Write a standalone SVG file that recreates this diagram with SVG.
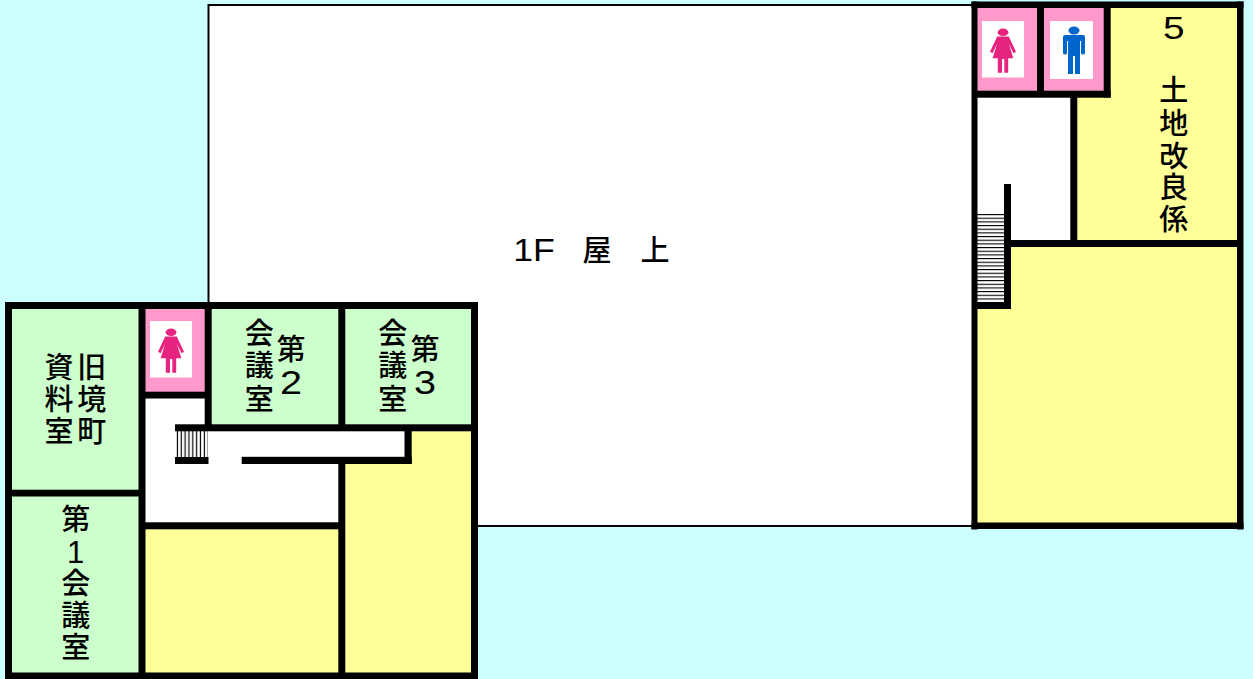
<svg xmlns="http://www.w3.org/2000/svg" width="1253" height="679" viewBox="0 0 1253 679">
<style>
.w{fill:#000}
.g{fill:#ccffcc}
.y{fill:#ffff99}
.p{fill:#ff99cc}
.f{fill:#fff}
text{font-family:"Noto Sans CJK JP","Noto Sans",sans-serif;font-size:29px;font-weight:500;text-anchor:middle;fill:#000}
.l{font-family:"Liberation Sans",sans-serif;font-size:31px;font-weight:400}
.d{font-size:33px}
</style>
<defs>
<g id="woman"><rect class="f" x="0" y="0" width="42" height="56.500"/><ellipse cx="21" cy="11.300" rx="5.400" ry="3.700" fill="#e6247f"/><path fill="#e6247f" d="M15.200 15.500H26.800L34 30.700L31.500 32.200L27 23L31.300 37.300H26.200V51.700H22.300V38H20V51.700H15.800V37.300H10.700L15 23L10.500 32.200L8 30.700Z"/></g>
<g id="man"><rect class="f" x="0" y="0" width="43" height="58"/><ellipse cx="24" cy="9.500" rx="5.500" ry="4" fill="#0066cc"/><path fill="#0066cc" d="M15 14H33Q35 14 35 16V32Q35 33.500 33 33.500Q31 33.500 31 32V20H30V53H25V35H23V53H18V20H17V32Q17 33.500 15 33.500Q13 33.500 13 32V16Q13 14 15 14Z"/></g>
<pattern id="hs" width="4" height="3.670" patternUnits="userSpaceOnUse" x="0" y="214"><rect width="4" height="3.670" fill="#fff"/><rect width="4" height="1.100" fill="#000"/></pattern>
<pattern id="vs" width="3.850" height="4" patternUnits="userSpaceOnUse" x="176" y="0"><rect width="3.850" height="4" fill="#fff"/><rect x="0.800" width="1.200" height="4" fill="#000"/></pattern>
</defs>
<rect width="1253" height="679" fill="#ccffff"/>
<g id="roof"><rect x="208.500" y="5" width="765" height="521" fill="#fff" stroke="#000" stroke-width="2"/><text class="l" transform="translate(534 261) scale(1.150 1)">1F</text><text x="597" y="261">屋</text><text x="655" y="261">上</text></g>
<g id="right-wing">
<rect class="y" x="975" y="5" width="265" height="521"/>
<rect class="f" x="975" y="94" width="98" height="150"/>
<rect class="p" x="975" y="5" width="65" height="90"/>
<rect class="p" x="1041" y="5" width="66" height="90"/>
<use href="#woman" x="982" y="21"/>
<use href="#man" x="1050" y="21"/>
<rect x="977" y="214" width="27" height="88" fill="url(#hs)"/>
<g class="w">
<rect x="971.500" y="1.500" width="6" height="528"/><rect x="971.500" y="1.500" width="272" height="6.500"/><rect x="1237" y="1.500" width="6.500" height="528"/><rect x="971.500" y="522.500" width="272" height="6.500"/>
<rect x="1037" y="5" width="7" height="92"/><rect x="1103.700" y="5" width="7" height="92.500"/><rect x="975" y="90.700" width="135.700" height="7"/>
<rect x="1070.300" y="97" width="7" height="150"/><rect x="1004" y="240" width="239" height="7"/>
<rect x="1004" y="184" width="7" height="125"/><rect x="975" y="302" width="36" height="7"/>
</g>
<text class="l" transform="translate(1173.700 39) scale(1.250 1)">5</text>
<text x="1173.700 1173.700 1173.700 1173.700 1173.700" y="101 134 167 198 230">土地改良係</text>
</g>
<g id="left-wing">
<rect class="g" x="10" y="305" width="130" height="371"/>
<rect class="p" x="144" y="305" width="62" height="90"/>
<rect class="f" x="144" y="395" width="196" height="130"/>
<rect class="f" x="205" y="428" width="205" height="32"/>
<rect class="g" x="210" y="305" width="130" height="122"/>
<rect class="g" x="343" y="305" width="130" height="122"/>
<rect class="y" x="144" y="527" width="197" height="149"/>
<rect class="y" x="343" y="462" width="130" height="214"/>
<rect class="y" x="410" y="428" width="63" height="36"/>
<use href="#woman" x="150" y="321"/>
<rect x="176" y="431" width="32" height="26" fill="url(#vs)"/>
<g class="w">
<rect x="5" y="302" width="473" height="7"/><rect x="5" y="302" width="7" height="377"/><rect x="471" y="302" width="7" height="377"/><rect x="5" y="672.500" width="473" height="6.500"/>
<rect x="138.500" y="302" width="7" height="377"/><rect x="12" y="489.700" width="127" height="6.800"/>
<rect x="204.700" y="302" width="7" height="129"/><rect x="145" y="391.700" width="66" height="6.800"/>
<rect x="175" y="424.300" width="303" height="7"/><rect x="175" y="457" width="33.500" height="7"/>
<rect x="241.700" y="456.800" width="170" height="7.200"/><rect x="404.500" y="431" width="7.200" height="33"/>
<rect x="338.300" y="302" width="7" height="129"/><rect x="338.300" y="464" width="7" height="215"/>
<rect x="145" y="522.300" width="194" height="7"/>
</g>
<text x="59 59 59" y="378 410 442">資料室</text>
<text x="91.700 91.700 91.700" y="378 410 442">旧境町</text>
<text x="259.300 259.300 259.300" y="344 376 410">会議室</text>
<text x="291" y="360">第</text><text class="l d" transform="translate(291 393.500) scale(1.200 1)">2</text>
<text x="392.700 392.700 392.700" y="344 376 410">会議室</text>
<text x="425" y="360">第</text><text class="l d" transform="translate(425 393.500) scale(1.200 1)">3</text>
<text x="75.700" y="530">第<tspan class="l" x="75.700" y="563">1</tspan><tspan x="75.700 75.700 75.700" y="594 626 658">会議室</tspan></text>
</g>
</svg>
